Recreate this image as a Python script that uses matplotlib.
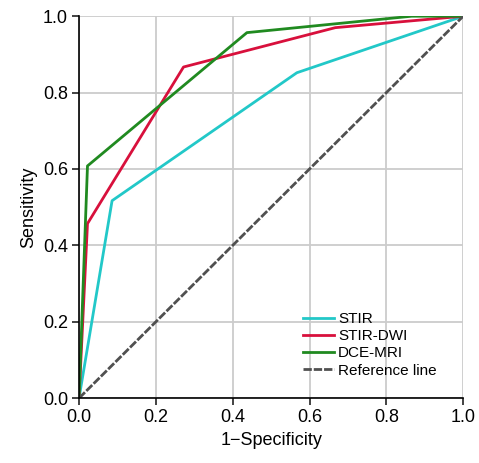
import matplotlib
matplotlib.use("Agg")
import matplotlib.pyplot as plt

# ROC curves
stir_x = [0.0, 0.086, 0.567, 1.0]
stir_y = [0.0, 0.517, 0.852, 1.0]

dwi_x = [0.0, 0.022, 0.272, 0.667, 1.0]
dwi_y = [0.0, 0.457, 0.867, 0.970, 1.0]

dce_x = [0.0, 0.022, 0.437, 0.866, 1.0]
dce_y = [0.0, 0.608, 0.957, 1.0, 1.0]

ref_x = [0.0, 1.0]
ref_y = [0.0, 1.0]

ticks = [0.0, 0.2, 0.4, 0.6, 0.8, 1.0]
tick_labels = ["0.0", "0.2", "0.4", "0.6", "0.8", "1.0"]

plt.rcParams["font.family"] = ["Liberation Sans", "DejaVu Sans"]

fig = plt.figure(figsize=(4.79, 4.63), dpi=100)
ax = fig.add_axes([0.165, 0.140, 0.802, 0.825])

ax.plot(stir_x, stir_y, color="#22c8c8", lw=2, label="STIR")
ax.plot(dwi_x, dwi_y, color="#d8103c", lw=2, label="STIR-DWI")
ax.plot(dce_x, dce_y, color="#208a20", lw=2, label="DCE-MRI")
ax.plot(ref_x, ref_y, color="#505050", lw=2, ls=(0, (3, 0.7)), label="Reference line")

ax.set_xlim(0, 1)
ax.set_ylim(0, 1)
ax.set_xticks(ticks)
ax.set_xticklabels(tick_labels)
ax.set_yticks(ticks)
ax.set_yticklabels(tick_labels)
ax.grid(True, color="#cccccc", lw=1.3)
ax.set_axisbelow(True)
for side in ["top", "right"]:
    ax.spines[side].set_visible(False)
ax.tick_params(labelsize=13, length=5, width=1.2, color="#222222", pad=3)
ax.spines["left"].set_linewidth(1.2)
ax.spines["bottom"].set_linewidth(1.2)

ax.set_xlabel("1\u2212Specificity", fontsize=13, labelpad=4)
ax.set_ylabel("Sensitivity", fontsize=13, labelpad=4)

ax.legend(loc="lower right", bbox_to_anchor=(0.955, 0.03), frameon=False,
          fontsize=11, handlelength=2.0, handletextpad=0.3,
          labelspacing=0.2, borderaxespad=0.2)

fig.savefig("out.png", dpi=100)
